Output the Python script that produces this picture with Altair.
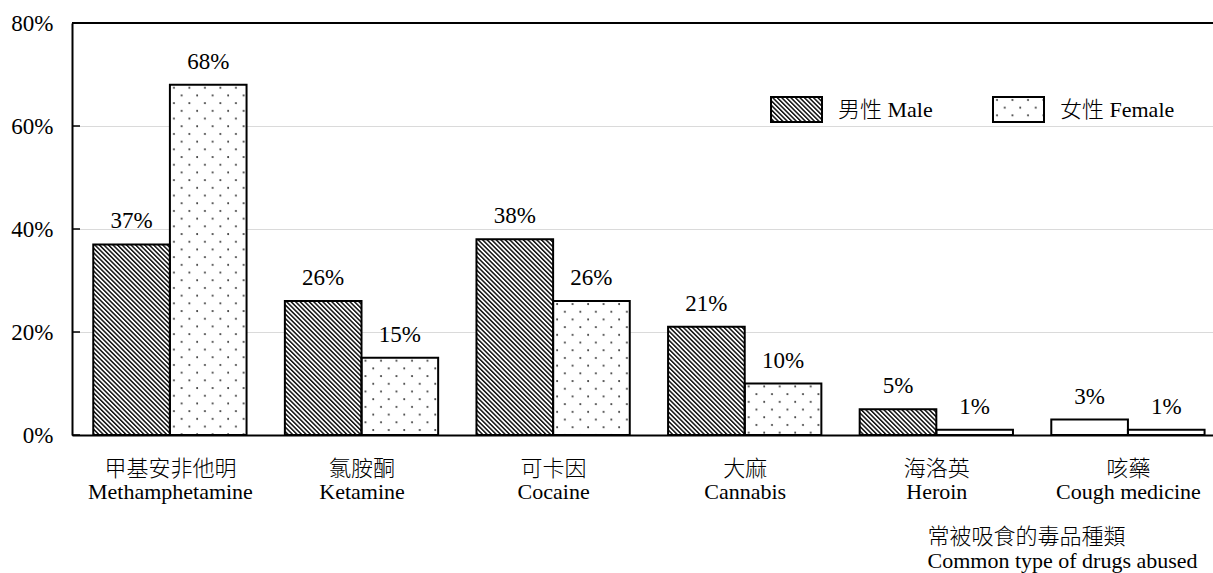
import base64

import altair as alt
import pandas as pd

# ---- values ---------------------------------------------------------------
drugs_zh = ["甲基安非他明", "氯胺酮", "可卡因", "大麻", "海洛英", "咳藥"]
drugs_en = ["Methamphetamine", "Ketamine", "Cocaine", "Cannabis", "Heroin", "Cough medicine"]
male_pct = [37, 26, 38, 21, 5, 3]
female_pct = [68, 15, 26, 10, 1, 1]
sex_keys = ["male", "female"]
sex_labels = ["男性 Male", "女性 Female"]
y_ticks = [0, 20, 40, 60, 80]
x_title = ["常被吸食的毒品種類", "Common type of drugs abused"]

FONT = "Liberation Serif, Noto Sans CJK TC"
PLOT_W, PLOT_H = 1141, 412


def pattern_url(defs, pid):
    """Small SVG that tiles a fill pattern over whatever box it is drawn into."""
    svg = ('<svg xmlns="http://www.w3.org/2000/svg"><defs>' + defs + "</defs>"
           f'<rect width="100%" height="100%" fill="url(#{pid})"/></svg>')
    return "data:image/svg+xml;base64," + base64.b64encode(svg.encode("utf-8")).decode("ascii")


HATCH = pattern_url(
    '<pattern id="h" width="3.2" height="3.2" patternUnits="userSpaceOnUse" '
    'patternTransform="rotate(-45)"><rect width="1.5" height="3.2" fill="#111"/></pattern>', "h")
DOTS = pattern_url(
    '<pattern id="d" width="15.5" height="15.4" patternUnits="userSpaceOnUse">'
    '<circle cx="4" cy="3" r="1" fill="#333"/><circle cx="11.75" cy="10.7" r="1" fill="#333"/>'
    "</pattern>", "d")

# ---- long table -----------------------------------------------------------
rows = []
for i in range(len(drugs_en)):
    for sex, series in zip(sex_keys, [male_pct, female_pct]):
        rows.append({"idx": i, "sex": sex, "value": series[i]})
df = pd.DataFrame(rows)
ticks_df = pd.DataFrame({"t": y_ticks})

label_arr = "[" + ",".join(f"'{zh}|{en}'" for zh, en in zip(drugs_zh, drugs_en)) + "]"

base = alt.Chart(df).transform_calculate(
    x0="datum.sex == 'male' ? datum.idx - 0.4 : datum.idx",
).transform_calculate(
    x1="datum.x0 + 0.4",
    xc="datum.x0 + 0.2",
    lbl="datum.value + '%'",
    url=f"datum.sex == 'male' ? '{HATCH}' : '{DOTS}'",
)

x_scale = alt.Scale(domain=[-0.511, 5.444], nice=False, zero=False)
y_scale = alt.Scale(domain=[0, 80], nice=False)

x_axis = alt.Axis(
    values=list(range(len(drugs_en))),
    labelExpr=f"split({label_arr}[datum.value], '|')",
    ticks=False, tickSize=0, grid=False,
    domainColor="black", domainWidth=2,
    labelFont=FONT, labelFontSize=22, labelColor="black", labelFontWeight=300,
    labelBaseline="top", labelPadding=23, labelLineHeight=23,
    title=x_title, titleFont=FONT, titleFontSize=22, titleFontWeight=300,
    titleColor="black", titleAlign="left", titleAnchor="start", titleBaseline="alphabetic",
    titleX=855, titleY=108, titleLineHeight=24,
)
y_axis = alt.Axis(
    values=y_ticks, labelExpr="datum.value + '%'",
    ticks=False, tickSize=0,
    domainColor="black", domainWidth=2,
    grid=True, gridColor="#b4b4b4", gridWidth=1, gridDash=[1, 1],
    labelFont=FONT, labelFontSize=23, labelColor="black", labelPadding=19,
    title=None,
)


def bar_xy(xfield="x0:Q"):
    return dict(
        x=alt.X(xfield, scale=x_scale, axis=x_axis),
        y=alt.Y("value:Q", scale=y_scale, axis=y_axis),
    )


# white bar bodies (keep grid lines from showing through)
bodies = base.mark_rect(fill="white", strokeWidth=0).encode(
    x2="x1:Q", y2=alt.datum(0), **bar_xy()
)

# hatch / dot textures
textures = base.transform_filter("datum.value > 3").mark_image(aspect=False).encode(
    x2="x1:Q", y2=alt.datum(0), url=alt.Url("url:N"), **bar_xy()
)

# bar outlines
outlines = base.mark_rect(fill="white", fillOpacity=0, stroke="black", strokeWidth=2).encode(
    x2="x1:Q", y2=alt.datum(0), **bar_xy()
)

# value labels above bars
labels = base.mark_text(font=FONT, fontSize=23, color="black", baseline="alphabetic", dy=-16).encode(
    text="lbl:N", **bar_xy("xc:Q")
)

# inward tick marks on the y axis
y_tick_marks = alt.Chart(ticks_df).mark_rule(color="black", strokeWidth=1.5).encode(
    y=alt.Y("t:Q", scale=y_scale, axis=y_axis),
    x=alt.value(0),
    x2=alt.value(8),
)

# top frame line
top_line = alt.Chart(ticks_df).transform_filter("datum.t == 80").mark_rule(
    color="black", strokeWidth=2
).encode(
    y=alt.Y("t:Q", scale=y_scale, axis=y_axis),
    x=alt.value(0),
    x2=alt.value(PLOT_W),
)


def legend_entry(x_px, label, url):
    d = alt.Chart(pd.DataFrame({"label": [label], "url": [url]}))
    box = dict(x=alt.value(x_px), x2=alt.value(x_px + 51), y=alt.value(74), y2=alt.value(99))
    body = d.mark_rect(fill="white").encode(**box)
    tex = d.mark_image(aspect=False).encode(url=alt.Url("url:N"), **box)
    edge = d.mark_rect(fill="white", fillOpacity=0, stroke="black", strokeWidth=2).encode(**box)
    txt = d.mark_text(font=FONT, fontSize=22, fontWeight=300, color="black",
                      align="left", baseline="middle").encode(
        x=alt.value(x_px + 67), y=alt.value(87), text="label:N"
    )
    return [body, tex, edge, txt]


legend_layers = legend_entry(699, sex_labels[0], HATCH) + legend_entry(921, sex_labels[1], DOTS)

chart = alt.layer(
    bodies, textures, outlines, labels, y_tick_marks, top_line, *legend_layers
).properties(
    width=PLOT_W,
    height=PLOT_H,
    autosize=alt.AutoSizeParams(type="none"),
    padding={"left": 72, "top": 23, "right": 0, "bottom": 138},
    background="white",
).configure_view(stroke=None)

chart.save("out.html", embed_options={"renderer": "svg", "actions": False})
